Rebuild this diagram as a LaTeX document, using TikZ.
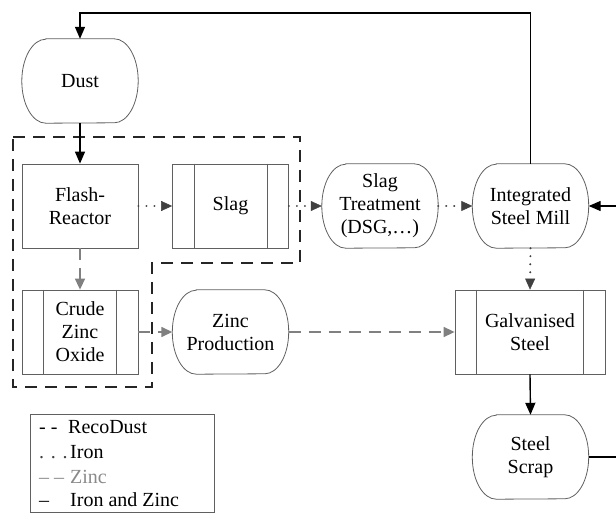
\documentclass[tikz,border=0pt]{standalone}
\usepackage{fontspec}
\setmainfont{Liberation Serif}
\newfontfamily\tnr{Liberation Serif}
\usetikzlibrary{arrows.meta}
\definecolor{outl}{HTML}{606060}
\definecolor{irongray}{HTML}{404040}
\definecolor{zincgray}{HTML}{808080}
\definecolor{legzinc}{HTML}{8A8A8A}
\begin{document}
\begin{tikzpicture}[x=1pt,y=1pt,
  base/.style={inner sep=0pt, align=center, font=\tnr\fontsize{20}{23}\selectfont, minimum height=84pt},
  term/.style={base, minimum width=116pt},
  proc/.style={base, draw=outl, line width=0.8pt, minimum width=116pt},
  outline/.style={draw=outl, line width=0.8pt},
  blk/.style={line width=1.4pt, -{Triangle[length=12pt,width=10pt]}},
  iron/.style={line width=2.2pt, draw=irongray, line cap=round, dash pattern=on 0.01pt off 8pt, -{Triangle[length=11pt,width=10pt,fill=irongray,line width=0.5pt]}},
  zinc/.style={line width=1.5pt, draw=zincgray, dash pattern=on 12pt off 8pt, -{Triangle[length=11pt,width=10pt,fill=zincgray]}},
  reco/.style={line width=2pt, draw=black!85, dash pattern=on 12pt off 8pt},
  legtxt/.style={inner sep=0pt, anchor=base west, font=\tnr\fontsize{20}{23}\selectfont}]
\useasboundingbox (0,0) rectangle (616,512);

% terminal-like nodes
\node[term] (dust)  at (80,431) {Dust};
\node[term] (slagt) at (380,306) {Slag\\Treatment\\(DSG,…)};
\node[term] (ism)   at (530.5,306) {Integrated\\Steel Mill};
\node[term] (zincp) at (230.5,180) {Zinc\\Production};
\node[term] (scrap) at (530.5,55) {Steel\\Scrap};
\foreach \n in {dust,slagt,ism,zincp,scrap}
  \draw[outline] ([xshift=24pt]\n.north west) -- ([xshift=-24pt]\n.north east)
    arc[start angle=90,end angle=-90,x radius=24pt,y radius=42pt]
    -- ([xshift=24pt]\n.south west)
    arc[start angle=270,end angle=90,x radius=24pt,y radius=42pt] -- cycle;

% process nodes
\node[proc] (flash) at (80,306) {Flash-\\Reactor};
\node[proc] (slag)  at (230.5,306) {Slag};
\node[proc] (crude) at (80,180) {Crude\\Zinc\\Oxide};
\node[proc, minimum width=150pt] (galv) at (530,180) {Galvanised\\Steel};
\foreach \n in {slag,crude,galv} {
  \draw[outline] ([xshift=22pt]\n.north west) -- ([xshift=22pt]\n.south west);
  \draw[outline] ([xshift=-22pt]\n.north east) -- ([xshift=-22pt]\n.south east);
}

% RecoDust boundary
\draw[reco] (13,375) -- (300,375) -- (300,249) -- (152,249) -- (152,125) -- (13,125) -- cycle;

% iron flows
\draw[iron] (flash.east) -- (slag.west);
\draw[iron] (slag.east) -- (slagt.west);
\draw[iron] (slagt.east) -- (ism.west);
\draw[iron] (ism.south) -- (galv.north);

% zinc flows
\draw[zinc] (flash.south) -- (crude.north);
\draw[zinc] (crude.east) -- (zincp.west);
\draw[zinc] (zincp.east) -- (galv.west);

% iron and zinc flows
\coordinate (tl) at (80,499);
\coordinate (rb) at (630,55);
\draw[blk] (ism.north) |- (tl) -- (dust.north);
\draw[blk] (dust.south) -- (flash.north);
\draw[blk] (galv.south) -- (scrap.north);
\draw[blk] (scrap.east) -- (rb) |- (ism.east);

% legend
\node[draw=outl, line width=0.8pt, minimum width=184pt, minimum height=97.5pt, inner sep=0pt, anchor=north west] (leg) at (30,98) {};
\node[legtxt] (s1) at (39,79) {- -};
\node[legtxt] (w1) at (68,79) {RecoDust};
\node[legtxt, text=irongray] (s2) at (39,54) {. . .};
\node[legtxt] (w2) at (70,54) {Iron};
\node[legtxt, text=legzinc] (s3) at (39,29) {– –};
\node[legtxt, text=legzinc] (w3) at (70,29) {Zinc};
\node[legtxt] (s4) at (39,6) {–};
\node[legtxt] (w4) at (70,6) {Iron and Zinc};
\end{tikzpicture}
\end{document}
